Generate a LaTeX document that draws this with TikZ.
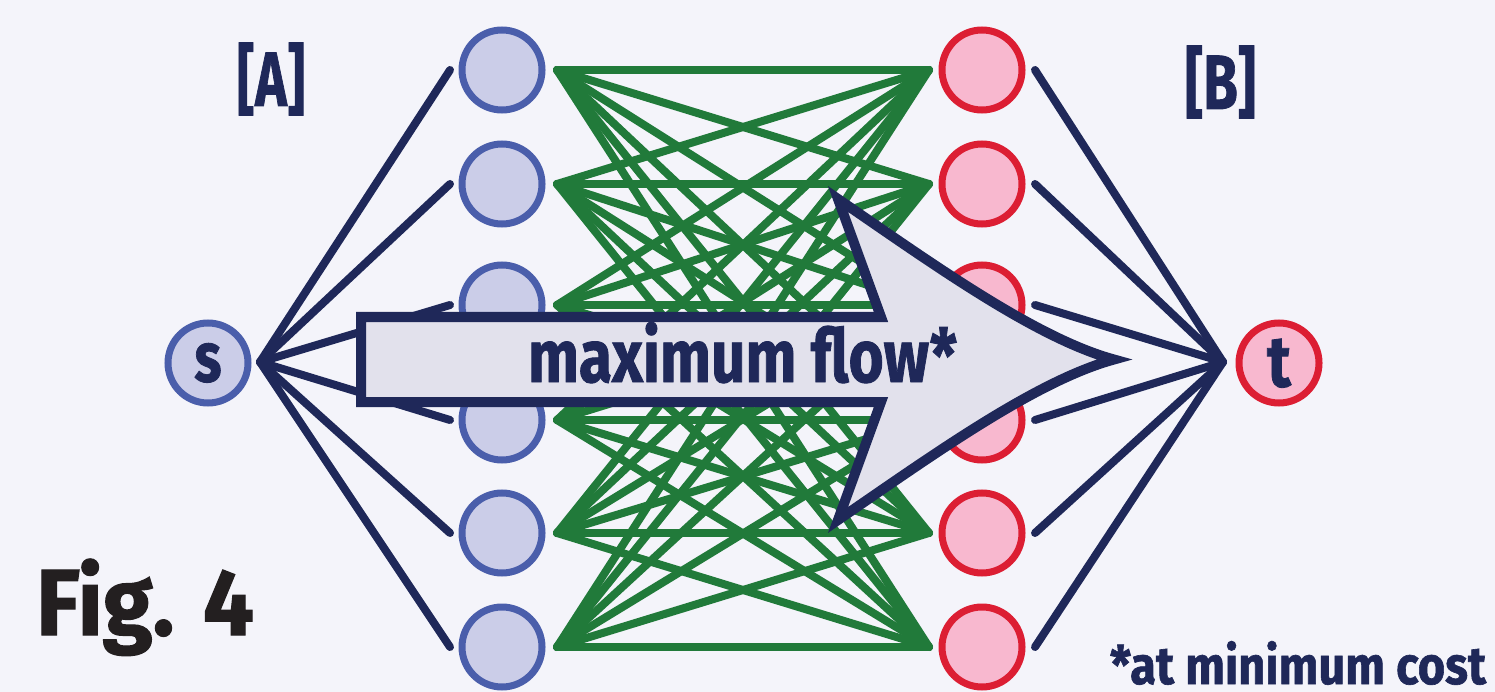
\documentclass[tikz,border=0pt]{standalone}
\usepackage{fontspec}
\usepackage{graphicx}
\setmainfont{Fira Sans}
\newfontfamily\heavyfont{Fira Sans}[BoldFeatures={FakeBold=1.2}]
\usetikzlibrary{calc}
\definecolor{bg}{HTML}{F4F4FA}
\definecolor{navy}{HTML}{1F2859}
\definecolor{lfill}{HTML}{CBCDE8}
\definecolor{lstroke}{HTML}{4A5EAB}
\definecolor{rfill}{HTML}{F8B8CF}
\definecolor{rstroke}{HTML}{DC1E33}
\definecolor{grn}{HTML}{217A3A}
\definecolor{arrfill}{HTML}{E2E1EC}
\definecolor{figblack}{HTML}{231F20}
\newcommand\mytxt[3]{\resizebox{#1}{\height}{\fontsize{#2}{#2}\selectfont\heavyfont\bfseries #3}}
\newcommand\mysq[3]{\scalebox{#1}[1]{\fontsize{#2}{#2}\selectfont\heavyfont\bfseries #3}}
\begin{document}
\begin{tikzpicture}[x=1pt,y=-1pt,
  lnode/.style={circle,draw=lstroke,fill=lfill,line width=7pt,minimum size=80pt,inner sep=0pt,outer sep=0pt},
  rnode/.style={circle,draw=rstroke,fill=rfill,line width=7pt,minimum size=80pt,inner sep=0pt,outer sep=0pt},
  navyline/.style={draw=navy,line width=8pt,line cap=round},
  greenline/.style={draw=grn,line width=8pt,line cap=round},
  lbltext/.style={inner sep=0pt,outer sep=0pt,text=navy,anchor=base west},
  bigarrow/.style={draw=navy,fill=arrfill,line width=10pt,line join=miter}]
\fill[bg] (0,0) rectangle (1495,692);
\useasboundingbox (0,0) rectangle (1495,692);
% circles
\foreach \i/\y in {1/70,2/184,3/305,4/420,5/533,6/647}{
  \node[lnode] (a\i) at (502,\y) {};
  \node[rnode] (b\i) at (982,\y) {};
}
\node[lnode] (s) at (208,363) {};
\node[rnode] (t) at (1279,363) {};
\coordinate (sfan) at (260,362);
\coordinate (tfan) at (1223,362);
% green complete bipartite edges
\foreach \i in {1,...,6}{
  \foreach \j in {1,...,6}{
    \draw[greenline] ($(a\i)+(55,0)$) -- ($(b\j)+(-53,0)$);
  }
}
% navy fan edges
\foreach \i in {1,...,6}{
  \draw[navyline] (sfan) -- ($(a\i)+(-52,0)$);
  \draw[navyline] ($(b\i)+(53,0)$) -- (tfan);
}
% labels in s and t
\node[inner sep=0pt,outer sep=0pt,text=navy,anchor=base] (slbl) at (s.center |- 0,381.5) {\mysq{0.8}{70}{s}};
\node[inner sep=0pt,outer sep=0pt,text=navy,anchor=base] (tlbl) at (t.center |- 0,386.5) {\mysq{0.85}{72}{t}};
% big arrow
\draw[bigarrow] (361,317) -- (881,317) -- (838,199)
  .. controls (930,262) and (1035,338) .. (1114,359.5)
  .. controls (1035,381) and (930,457) .. (838,520)
  -- (881,402) -- (361,402) -- cycle;
\node[lbltext] (mf) at (528,382) {\mytxt{429pt}{74}{maximum flow*}};
% texts
\node[lbltext] (la) at (237,106) {\mytxt{68pt}{77}{[A]}};
\node[lbltext] (lb) at (1185,109) {\mytxt{71pt}{77}{[B]}};
\node[lbltext,text=figblack] (fig) at (36,635) {\mytxt{218pt}{94}{Fig. 4}};
\node[lbltext] (cost) at (1110,684) {\mytxt{376pt}{53}{*at minimum cost}};
\end{tikzpicture}
\end{document}
